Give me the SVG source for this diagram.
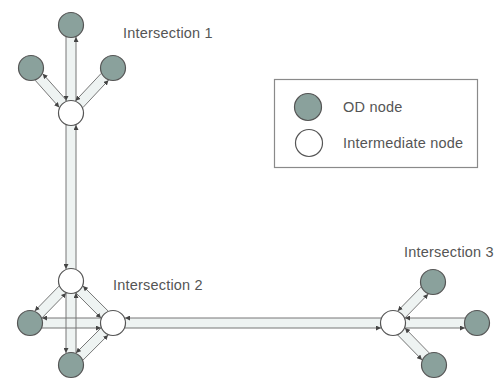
<svg xmlns="http://www.w3.org/2000/svg" width="503" height="384" viewBox="0 0 503 384">
  <style>
    .od { fill: #8aa19c; stroke: #555555; stroke-width: 1.2; }
    .im { fill: #ffffff; stroke: #555555; stroke-width: 1.2; }
    .band { stroke: #eef3f2; stroke-width: 10; fill: none; }
    .lane { stroke: #777777; stroke-width: 1; fill: none; marker-end: url(#arr); }
    .lbl { font-family: "Liberation Sans", Arial, sans-serif; font-size: 14.5px; fill: #555555; letter-spacing: 0.2px; }
  </style>
  <defs>
    <marker id="arr" markerUnits="userSpaceOnUse" markerWidth="5" markerHeight="5" refX="5" refY="2.5" orient="auto">
      <path d="M0,0 L5,2.5 L0,5 z" fill="#444444"/>
    </marker>
  </defs>
  <rect width="503" height="384" fill="#ffffff"/>

  <!-- links: a pale band with one lane for each direction -->
  <g id="connectors">
    <g id="bands">
      <line class="band" x1="71" y1="37" x2="71" y2="101"/>
      <line class="band" x1="39" y1="77" x2="63" y2="104"/>
      <line class="band" x1="105" y1="77" x2="79" y2="104"/>
      <line class="band" x1="71" y1="125" x2="71" y2="269"/>
      <line class="band" x1="63" y1="289" x2="38" y2="315"/>
      <line class="band" x1="79" y1="289" x2="105" y2="315"/>
      <line class="band" x1="71" y1="293" x2="71" y2="353"/>
      <line class="band" x1="42" y1="323" x2="101" y2="323"/>
      <line class="band" x1="105" y1="331" x2="79" y2="357"/>
      <line class="band" x1="125" y1="323" x2="381" y2="323"/>
      <line class="band" x1="401" y1="314" x2="425" y2="290"/>
      <line class="band" x1="405" y1="323" x2="465" y2="323"/>
      <line class="band" x1="401" y1="332" x2="426" y2="357"/>
    </g>
    <g id="lanes">
      <!-- intersection 1 -->
      <line class="lane" x1="66" y1="37" x2="66" y2="101"/>
      <line class="lane" x1="76" y1="101" x2="76" y2="37"/>
      <line class="lane" x1="35.2" y1="80.3" x2="59.3" y2="107.4"/>
      <line class="lane" x1="66.8" y1="100.7" x2="42.7" y2="73.7"/>
      <line class="lane" x1="101.2" y1="73.4" x2="75.5" y2="100.8"/>
      <line class="lane" x1="82.9" y1="107.6" x2="108.5" y2="80.2"/>
      <!-- intersection 1 to intersection 2 -->
      <line class="lane" x1="66" y1="125" x2="66" y2="269"/>
      <line class="lane" x1="76" y1="269" x2="76" y2="125"/>
      <!-- intersection 2 -->
      <line class="lane" x1="59.0" y1="286.1" x2="34.8" y2="310.9"/>
      <line class="lane" x1="42.0" y1="317.9" x2="66.2" y2="293.1"/>
      <line class="lane" x1="76.0" y1="293.0" x2="101.0" y2="318.1"/>
      <line class="lane" x1="108.1" y1="311.0" x2="83.0" y2="286.0"/>
      <line class="lane" x1="66" y1="293" x2="66" y2="353"/>
      <line class="lane" x1="76" y1="353" x2="76" y2="293"/>
      <line class="lane" x1="42" y1="328" x2="101" y2="328"/>
      <line class="lane" x1="101" y1="318" x2="42" y2="318"/>
      <line class="lane" x1="101.0" y1="328.0" x2="76.0" y2="353.0"/>
      <line class="lane" x1="83.0" y1="360.1" x2="108.1" y2="335.0"/>
      <!-- intersection 2 to intersection 3 -->
      <line class="lane" x1="125" y1="328" x2="381" y2="328"/>
      <line class="lane" x1="381" y1="318" x2="125" y2="318"/>
      <!-- intersection 3 -->
      <line class="lane" x1="405.0" y1="317.9" x2="428.2" y2="294.1"/>
      <line class="lane" x1="421.0" y1="287.1" x2="397.8" y2="310.9"/>
      <line class="lane" x1="405" y1="328" x2="465" y2="328"/>
      <line class="lane" x1="465" y1="318" x2="405" y2="318"/>
      <line class="lane" x1="397.8" y1="335.1" x2="422.0" y2="359.9"/>
      <line class="lane" x1="429.2" y1="352.9" x2="405.0" y2="328.1"/>
    </g>
  </g>

  <!-- intersection 1 -->
  <g id="i1-od-top"><circle class="od" cx="71" cy="25" r="12.5"/></g>
  <g id="i1-od-left"><circle class="od" cx="31" cy="68" r="12.5"/></g>
  <g id="i1-od-right"><circle class="od" cx="113" cy="68" r="12.5"/></g>
  <g id="i1-mid"><circle class="im" cx="71" cy="113" r="12.5"/></g>
  <g id="i1-label"><text class="lbl" x="123" y="38">Intersection 1</text></g>

  <!-- intersection 2 -->
  <g id="i2-mid-top"><circle class="im" cx="71" cy="281" r="12.5"/></g>
  <g id="i2-od-left"><circle class="od" cx="30" cy="323" r="12.5"/></g>
  <g id="i2-mid-right"><circle class="im" cx="113" cy="323" r="12.5"/></g>
  <g id="i2-od-bottom"><circle class="od" cx="71" cy="365" r="12.5"/></g>
  <g id="i2-label"><text class="lbl" x="113" y="290">Intersection 2</text></g>

  <!-- intersection 3 -->
  <g id="i3-mid"><circle class="im" cx="393" cy="323" r="12.5"/></g>
  <g id="i3-od-up"><circle class="od" cx="433" cy="282" r="12.5"/></g>
  <g id="i3-od-right"><circle class="od" cx="477" cy="323" r="12.5"/></g>
  <g id="i3-od-down"><circle class="od" cx="434" cy="365" r="12.5"/></g>
  <g id="i3-label"><text class="lbl" x="404" y="257">Intersection 3</text></g>

  <!-- legend -->
  <g id="legend">
    <rect x="274.5" y="79.5" width="203" height="88" fill="#ffffff" stroke="#8a8a8a" stroke-width="1.2"/>
    <circle class="od" cx="308" cy="107" r="13.5"/>
    <circle class="im" cx="309" cy="143" r="13.5"/>
    <text class="lbl" x="343" y="112">OD node</text>
    <text class="lbl" x="343" y="148">Intermediate node</text>
  </g>
</svg>
